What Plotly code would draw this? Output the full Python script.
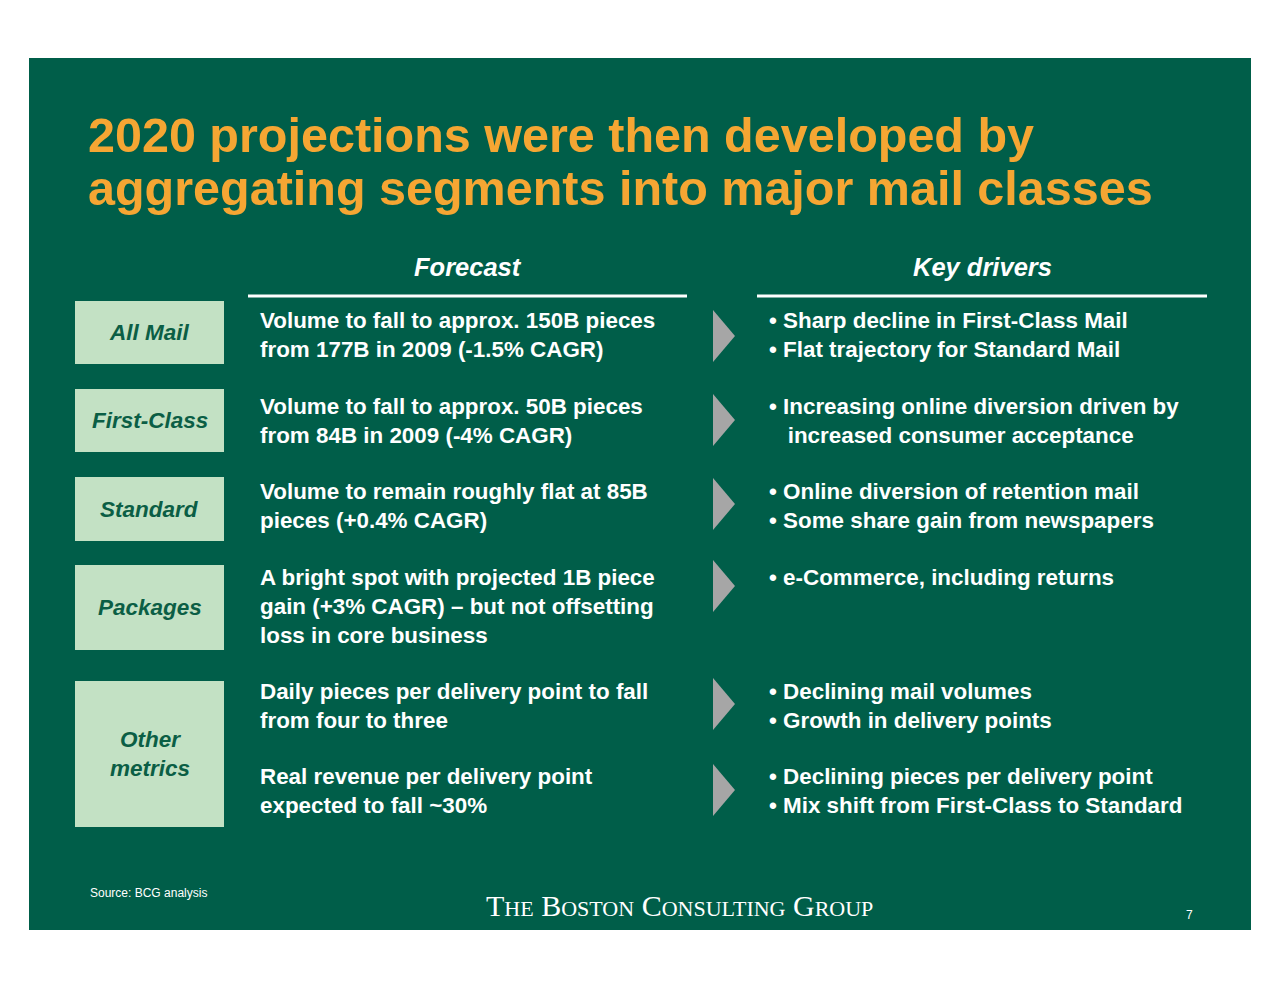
import plotly.graph_objects as go

title_lines = ["2020 projections were then developed by", "aggregating segments into major mail classes"]
headers = ["Forecast", "Key drivers"]
labels = ["All Mail", "First-Class", "Standard", "Packages", "Other<br>metrics"]
forecasts = [
    "Volume to fall to approx. 150B pieces<br>from 177B in 2009 (-1.5% CAGR)",
    "Volume to fall to approx. 50B pieces<br>from 84B in 2009 (-4% CAGR)",
    "Volume to remain roughly flat at 85B<br>pieces (+0.4% CAGR)",
    "A bright spot with projected 1B piece<br>gain (+3% CAGR) – but not offsetting<br>loss in core business",
    "Daily pieces per delivery point to fall<br>from four to three",
    "Real revenue per delivery point<br>expected to fall ~30%",
]
drivers = [
    "• Sharp decline in First-Class Mail<br>• Flat trajectory for Standard Mail",
    "• Increasing online diversion driven by<br>   increased consumer acceptance",
    "• Online diversion of retention mail<br>• Some share gain from newspapers",
    "• e-Commerce, including returns",
    "• Declining mail volumes<br>• Growth in delivery points",
    "• Declining pieces per delivery point<br>• Mix shift from First-Class to Standard",
]
source = "Source: BCG analysis"
page = "7"

GREEN = "#005E49"
ORANGE = "#F5A633"
BOX = "#C3E1C4"
DARK = "#0B5E45"

box_rows = [(301, 364), (389, 452), (477, 541), (565, 650), (681, 827)]
text_tops = [306, 392, 477, 563, 677, 762]
arrow_c = [336, 420, 504, 586, 704, 790]

fig = go.Figure()
shapes = [dict(type="rect", x0=29, x1=1251, y0=58, y1=930, fillcolor=GREEN, line_width=0, layer="below")]
ann = []
F = "Liberation Sans, Arial"

for ty, tl in zip([135, 188], title_lines):
    ann.append(dict(x=86, y=ty, text="<b>" + tl + "</b>", xanchor="left", yanchor="middle", align="left",
                    font=dict(family=F, size=48.5, color=ORANGE)))
for hx, h, (l0, l1) in zip([468, 982], headers, [(248, 687), (757, 1207)]):
    ann.append(dict(x=hx, y=267, text="<b><i>" + h + "</i></b>", xanchor="center", yanchor="middle",
                    font=dict(family=F, size=25.5, color="white")))
    shapes.append(dict(type="line", x0=l0, x1=l1, y0=296, y1=296, line=dict(color="white", width=3)))

for lab, (y0, y1) in zip(labels, box_rows):
    shapes.append(dict(type="rect", x0=75, x1=224, y0=y0, y1=y1, fillcolor=BOX, line_width=0))
    ann.append(dict(x=149.5, y=(y0 + y1) / 2, text="<b><i>" + lab + "</i></b>", xanchor="center",
                    yanchor="middle", font=dict(family=F, size=22.5, color=DARK)))

for f, d, t, c in zip(forecasts, drivers, text_tops, arrow_c):
    ann.append(dict(x=258, y=t, text="<b>" + f + "</b>", xanchor="left", yanchor="top", align="left",
                    font=dict(family=F, size=22.4, color="white")))
    ann.append(dict(x=767, y=t, text="<b>" + d + "</b>", xanchor="left", yanchor="top", align="left",
                    font=dict(family=F, size=22.4, color="white")))
    shapes.append(dict(type="path", path=f"M713,{c-26} L735,{c} L713,{c+26} Z", fillcolor="#A6A6A6", line_width=0))

ann.append(dict(x=88, y=893, text=source, xanchor="left", yanchor="middle", font=dict(family=F, size=12, color="white")))
ann.append(dict(x=679, y=905, text="T<span style='font-size:22px'>HE</span> B<span style='font-size:22px'>OSTON</span> C<span style='font-size:22px'>ONSULTING</span> G<span style='font-size:22px'>ROUP</span>",
                xanchor="center", yanchor="middle", font=dict(family="Liberation Serif, Times New Roman", size=30, color="white")))
ann.append(dict(x=1189, y=915, text=page, xanchor="center", yanchor="middle", font=dict(family=F, size=12, color="white")))

for a in ann:
    a.update(showarrow=False, xref="x", yref="y")

fig.update_layout(width=1280, height=990, margin=dict(l=0, r=0, t=0, b=0), paper_bgcolor="white",
                  plot_bgcolor="white", shapes=shapes, annotations=ann, showlegend=False,
                  xaxis=dict(range=[8, 1288], visible=False, fixedrange=True),
                  yaxis=dict(range=[998, 8], visible=False, fixedrange=True))
fig.write_html("out.html", config={"displayModeBar": False})
